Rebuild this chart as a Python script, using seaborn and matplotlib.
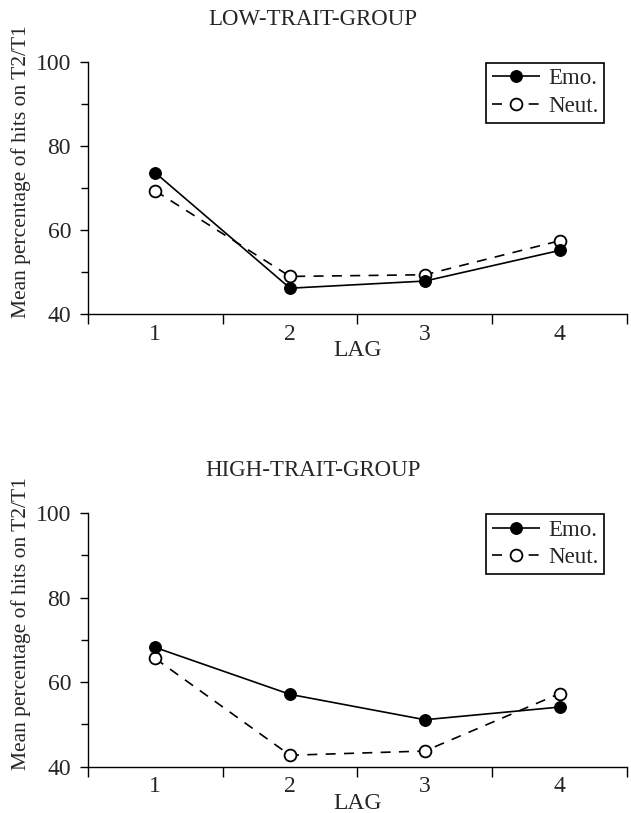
import pandas as pd
import seaborn as sns
import matplotlib.pyplot as plt
from matplotlib.ticker import FixedLocator

# Data
lags = [1, 2, 3, 4]
low_emo = [73.6, 46.1, 47.8, 55.1]
low_neut = [69.3, 48.9, 49.3, 57.4]
high_emo = [68.2, 57.1, 51.1, 54.1]
high_neut = [65.6, 42.7, 43.7, 57.3]
titles = ['LOW-TRAIT-GROUP', 'HIGH-TRAIT-GROUP']


def make_df(emo, neut):
    return pd.DataFrame({
        'LAG': lags * 2,
        'Hits': emo + neut,
        'Cond': ['Emo.'] * 4 + ['Neut.'] * 4,
    })


sns.set_style('white')
plt.rcParams['font.family'] = ['Liberation Serif', 'DejaVu Serif']

fig = plt.figure(figsize=(6.31, 8.13), dpi=100)
ax_top = fig.add_axes([0.139, 0.614, 0.855, 0.31])
ax_bot = fig.add_axes([0.139, 0.057, 0.855, 0.312])

for ax, title, emo, neut in [(ax_top, titles[0], low_emo, low_neut),
                             (ax_bot, titles[1], high_emo, high_neut)]:
    df = make_df(emo, neut)
    sns.lineplot(data=df, x='LAG', y='Hits', hue='Cond', style='Cond',
                 palette=['black', 'black'], markers=['o', 'o'],
                 dashes=[(1, 0), (6, 5)], linewidth=1.2, markersize=8.5,
                 markeredgecolor='black', ax=ax, legend=False)
    # hollow markers for Neut.
    ax.lines[1].set_markerfacecolor('white')
    ax.lines[1].set_markeredgewidth(1.3)
    ax.lines[1].set_zorder(3)
    ax.lines[0].set_zorder(4)

    ax.set_xlim(0.5, 4.5)
    ax.set_ylim(40, 100)
    ax.set_xticks(lags)
    ax.xaxis.set_minor_locator(FixedLocator([0.5, 1.5, 2.5, 3.5, 4.5]))
    ax.set_yticks([40, 60, 80, 100])
    ax.yaxis.set_minor_locator(FixedLocator([50, 70, 90]))
    ax.tick_params(axis='x', which='major', length=0, labelsize=17, pad=7)
    ax.tick_params(axis='x', which='minor', length=7, width=1, direction='out',
                   bottom=True, color='black')
    ax.tick_params(axis='y', which='major', length=6, width=1, direction='out',
                   left=True, labelsize=17, pad=6, color='black')
    ax.tick_params(axis='y', which='minor', length=5, width=1, direction='out',
                   left=True, color='black')
    for side in ['top', 'right']:
        ax.spines[side].set_visible(False)
    for side in ['left', 'bottom']:
        ax.spines[side].set_color('black')
        ax.spines[side].set_linewidth(1)

    ax.set_xlabel('LAG', fontsize=17, labelpad=-3)
    ax.set_ylabel('Mean percentage of hits on T2/T1', fontsize=15.5)
    ax.yaxis.set_label_coords(-0.106, 0.563)
    ax.text(0.417, 1.168, title, transform=ax.transAxes, fontsize=16.5,
            ha='center', va='center')

    leg = ax.legend(handles=ax.lines[:2], labels=['Emo.', 'Neut.'],
                    loc='upper right', bbox_to_anchor=(0.957, 0.997),
                    fontsize=16.5, frameon=True, fancybox=False, framealpha=1,
                    edgecolor='black', handlelength=2.1, handletextpad=0.35,
                    borderpad=0.25, labelspacing=0.3, borderaxespad=0)
    leg.get_frame().set_linewidth(1.2)

fig.savefig('out.png', dpi=100)
